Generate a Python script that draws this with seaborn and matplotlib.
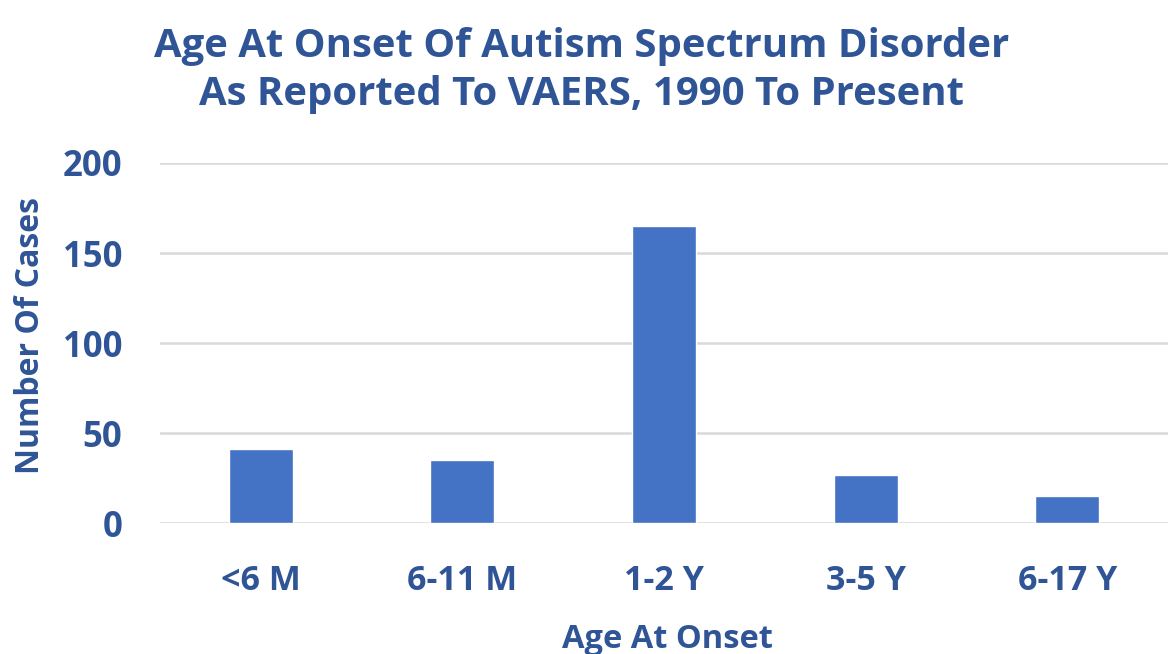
import matplotlib
matplotlib.use("Agg")
import matplotlib.pyplot as plt
import seaborn as sns
import pandas as pd

categories = ["<6 M", "6-11 M", "1-2 Y", "3-5 Y", "6-17 Y"]
cases = [41, 35, 165, 27, 15]
yticks = [0, 50, 100, 150, 200]

title = "Age At Onset Of Autism Spectrum Disorder\nAs Reported To VAERS, 1990 To Present"
xlabel = "Age At Onset"
ylabel = "Number Of Cases"

TEXT = "#2F5597"
BAR = "#4472C4"
GRID = "#D9D9D9"

sns.set_theme(style="white")
plt.rcParams['font.family'] = ['Open Sans', 'DejaVu Sans']
plt.rcParams['font.weight'] = 'bold'

df = pd.DataFrame({"cat": categories, "n": cases})

fig = plt.figure(figsize=(11.7, 6.54), dpi=100)
ax = fig.add_axes([160/1170, 1-523.3/654, 1008/1170, (523.3-163)/654])
sns.barplot(data=df, x="cat", y="n", color=BAR, width=0.317, saturation=1, ax=ax, zorder=3)

ax.set_ylim(0, 200)
ax.set_yticks(yticks)
ax.set_xlim(-0.5, len(categories) - 0.5)
for y in yticks:
    ax.axhline(y, color=GRID, lw=1.8, zorder=1)
for s in ax.spines.values():
    s.set_visible(False)
ax.tick_params(axis='both', length=0, colors=TEXT)
ax.tick_params(axis='x', pad=29, labelsize=24.5)
ax.tick_params(axis='y', pad=27, labelsize=25)
for lab in ax.get_xticklabels() + ax.get_yticklabels():
    lab.set_fontweight('bold')

ax.set_xlabel("")
ax.set_ylabel("")
fig.text(667/1170, 1 - 648/654, xlabel, ha='center', va='baseline', color=TEXT,
         fontsize=23.5, fontweight='bold')
fig.text(31/1170, 1 - 335/654, ylabel, ha='center', va='center', rotation=90,
         color=TEXT, fontsize=23, fontweight='bold')

fig.text(0.497, 1 - 70/654, title, ha='center', va='center', color=TEXT,
         fontsize=28.9, fontweight='bold', linespacing=1.3)

fig.savefig("out.png", dpi=100, facecolor='white')
